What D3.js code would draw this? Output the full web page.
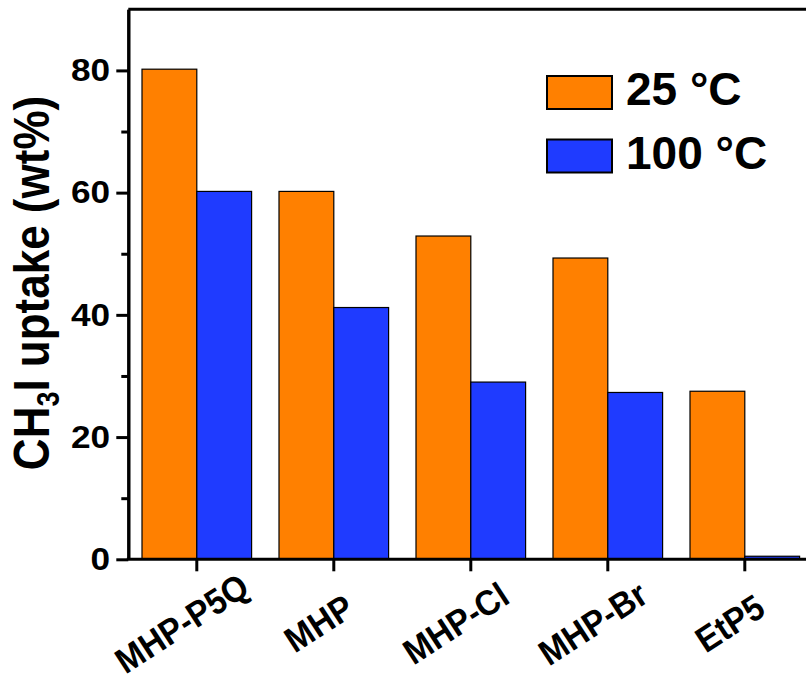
<!DOCTYPE html>
<html>
<head>
<meta charset="utf-8">
<script src="https://cdn.jsdelivr.net/npm/d3@7"></script>
<style>
    body { margin: 0; background: #fff; }
    svg { display: block; font-family: "Liberation Sans", Arial, sans-serif; }
    .axis path, .axis line { stroke: #000; stroke-width: 3; }
    .axis text { fill: #000; font-weight: bold; }
</style>
</head>
<body>
<div id="chart"></div>
<script>
"use strict"

// chart data
const categories = ["MHP-P5Q", "MHP", "MHP-Cl", "MHP-Br", "EtP5"]
const seriesNames = ["25 °C", "100 °C"]
const uptake25 = [80.2, 60.2, 52.9, 49.3, 27.5]
const uptake100 = [60.2, 41.2, 29.0, 27.3, 0.5]
const yTicks = [0, 20, 40, 60, 80]
const yMinorTicks = [10, 30, 50, 70]
const yMax = 90

const colors = ["#FF8000", "#1F3BFF"]

const WIDTH = 806, HEIGHT = 680
const PLOT = { left: 128.3, right: 813.3, top: 9.3, bottom: 559.3 }

const svg = d3.select("#chart").append("svg")
    .attr("width", WIDTH).attr("height", HEIGHT)

// scales
const x = d3.scaleBand().domain(categories)
    .range([PLOT.left, PLOT.right])
    .paddingInner(0.2).paddingOuter(0.1)

const xSub = d3.scaleBand().domain(seriesNames).range([0, x.bandwidth()])

const y = d3.scaleLinear().domain([0, yMax]).range([PLOT.bottom, PLOT.top])

// rows for the bars
const rows = []
categories.forEach((c, i) => {
    rows.push({ cat: c, series: seriesNames[0], value: uptake25[i], color: colors[0] })
    rows.push({ cat: c, series: seriesNames[1], value: uptake100[i], color: colors[1] })
})

svg.append("g").selectAll("rect").data(rows).join("rect")
    .attr("x", (d) => x(d.cat) + xSub(d.series))
    .attr("width", xSub.bandwidth())
    .attr("y", (d) => y(d.value))
    .attr("height", (d) => y(0) - y(d.value))
    .attr("fill", (d) => d.color)
    .attr("stroke", "#000").attr("stroke-width", 1.2)

// top frame line
svg.append("line")
    .attr("x1", PLOT.left).attr("x2", WIDTH)
    .attr("y1", y(yMax)).attr("y2", y(yMax))
    .attr("stroke", "#000").attr("stroke-width", 3)

// y axis with major and minor ticks
const yAxis = svg.append("g").attr("class", "axis")
    .attr("transform", "translate(" + PLOT.left + ",0)")
    .call(d3.axisLeft(y).tickValues(yTicks).tickSize(12).tickPadding(4.5).tickSizeOuter(0))
yAxis.selectAll("text")
    .attr("font-size", 32)
    .attr("transform", "scale(1.1,1)")

svg.append("g").attr("class", "axis")
    .attr("transform", "translate(" + PLOT.left + ",0)")
    .call(d3.axisLeft(y).tickValues(yMinorTicks).tickSize(7).tickFormat("").tickSizeOuter(0))

// x axis
const xAxis = svg.append("g").attr("class", "axis")
    .attr("transform", "translate(0," + PLOT.bottom + ")")
    .call(d3.axisBottom(x).tickSize(12).tickSizeOuter(0))
xAxis.select(".domain").attr("d", "M" + (PLOT.left - 1.5) + ",0H" + WIDTH)
xAxis.selectAll("text")
    .attr("font-size", 33)
    .attr("y", 0).attr("dy", "0.35em")
    .attr("text-anchor", "middle")
    .attr("transform", "translate(-15,64) rotate(-33) scale(1,1.08)")

// y axis title with subscript
const yTitle = svg.append("text")
    .attr("transform", "translate(49,283) scale(1.14,1) rotate(-90)")
    .attr("text-anchor", "middle")
    .attr("font-size", 44).attr("font-weight", "bold")
yTitle.append("tspan").text("CH")
yTitle.append("tspan").text("3").attr("font-size", 27).attr("dy", 9)
yTitle.append("tspan").text("I uptake (wt%)").attr("dy", -9)

// legend
const legend = svg.append("g").selectAll("g").data(seriesNames).join("g")
    .attr("transform", (d, i) => "translate(547," + (76 + i * 63.5) + ")")
legend.append("rect")
    .attr("width", 65).attr("height", 33)
    .attr("fill", (d, i) => colors[i])
    .attr("stroke", "#000").attr("stroke-width", 2)
legend.append("text")
    .attr("x", 79).attr("y", 29)
    .attr("font-size", 46).attr("font-weight", "bold")
    .text((d) => d)
</script>
</body>
</html>
